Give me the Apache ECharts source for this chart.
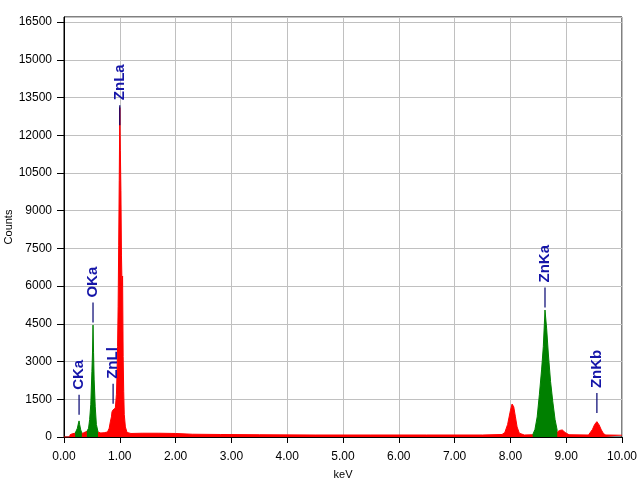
<!DOCTYPE html>
<html>
<head>
<meta charset="utf-8">
<script src="https://cdn.jsdelivr.net/npm/echarts@6/dist/echarts.min.js"></script>
<style>html,body{margin:0;padding:0;background:#fff}#c{width:640px;height:480px}</style>
</head>
<body>
<div id="c"></div>
<script>
// Spectrum (keV, counts) – red background/unlabelled regions
var redSpectrum = [
  [0.00,0],[0.10,0],[0.11,90],[0.15,130],[0.20,150],[0.24,170],[0.30,160],[0.34,150],[0.38,200],[0.42,220],
  [0.60,200],[0.66,160],[0.72,170],[0.78,200],[0.81,350],[0.83,600],[0.85,800],[0.86,1000],[0.88,1080],
  [0.90,1050],[0.92,1150],[0.94,1700],[0.95,2500],[0.96,3600],[0.97,5200],[0.98,7600],[0.99,10200],
  [1.00,13100],[1.01,11400],[1.02,9800],[1.03,7200],[1.04,6000],[1.05,6400],[1.06,3200],[1.07,1800],
  [1.08,900],[1.10,400],[1.13,180],[1.20,140],[1.40,150],[1.70,150],[2.00,140],[2.30,110],[2.80,100],
  [3.50,90],[4.50,80],[5.50,80],[6.50,80],[7.50,80],[7.85,100],[7.90,180],[7.95,500],[8.00,1050],
  [8.03,1310],[8.06,1200],[8.09,800],[8.12,400],[8.16,150],[8.25,80],[8.40,90],[8.84,200],[8.88,260],
  [8.93,280],[8.98,180],[9.05,90],[9.40,80],[9.43,120],[9.47,300],[9.51,500],[9.55,610],[9.59,480],
  [9.63,280],[9.67,130],[9.71,80],[10.00,70]
];
// Green identified peak regions
var greenCKa = [[0.20,150],[0.22,200],[0.24,350],[0.26,560],[0.27,640],[0.28,500],[0.30,280],[0.32,160]];
var greenOKa = [[0.41,220],[0.44,350],[0.46,700],[0.48,1300],[0.50,2600],[0.51,3300],[0.52,4450],
  [0.53,3350],[0.54,2300],[0.56,1200],[0.58,500],[0.61,200]];
var greenZnKa = [[8.40,90],[8.44,300],[8.48,800],[8.52,1700],[8.56,2700],[8.59,3600],[8.62,5050],
  [8.65,4300],[8.68,3300],[8.72,2200],[8.76,1400],[8.80,700],[8.84,250]];
// Peak labels: name, energy, count at bottom of marker line
var peakNames = ['CKa','OKa','ZnLl','ZnLa','ZnKa','ZnKb'];
var peakEnergy = [0.27, 0.52, 0.88, 1.00, 8.62, 9.55];
var peakMarkCount = [880, 4550, 1320, 12400, 5150, 950];

var FONT = 'Liberation Sans, Arial, sans-serif';
var chart = echarts.init(document.getElementById('c'), null, {renderer:'canvas'});

function greenSeries(d){
  return {type:'line', data:d, showSymbol:false, symbol:'none', animation:false,
    lineStyle:{color:'#008000', width:1}, areaStyle:{color:'#008000', opacity:1}, z:3};
}

chart.setOption({
  animation:false,
  backgroundColor:'#ffffff',
  grid:{left:64, right:18, top:17, bottom:43, containLabel:false, outerBoundsMode:'none',
    show:true, borderColor:'#000', borderWidth:1, backgroundColor:'transparent'},
  xAxis:{
    type:'value', min:0, max:10, interval:1,
    name:'keV', nameLocation:'middle', nameGap:32, nameMoveOverlap:false,
    nameTextStyle:{fontFamily:FONT, fontSize:11, color:'#000'},
    axisLine:{lineStyle:{color:'#000', width:1}},
    axisTick:{show:true, length:6, lineStyle:{color:'#000'}},
    axisLabel:{fontFamily:FONT, fontSize:12, color:'#000', margin:14,
      formatter:function(v){return v.toFixed(2);}},
    splitLine:{show:true, lineStyle:{color:'#c0c0c0', width:1}}
  },
  yAxis:{
    type:'value', min:0, max:16700, interval:1500,
    name:'Counts', nameLocation:'middle', nameGap:50, nameRotate:90, nameMoveOverlap:false,
    nameTextStyle:{fontFamily:FONT, fontSize:11, color:'#000'},
    axisLine:{show:true, lineStyle:{color:'#000', width:1}},
    axisTick:{show:true, length:7, lineStyle:{color:'#000'}},
    axisLabel:{fontFamily:FONT, fontSize:12, color:'#000', margin:12, showMaxLabel:false,
      formatter:function(v){return String(v);}},
    splitLine:{show:true, lineStyle:{color:'#c0c0c0', width:1}}
  },
  series:[
    {type:'line', data:redSpectrum, showSymbol:false, symbol:'none', animation:false,
      lineStyle:{color:'#ff0000', width:1}, areaStyle:{color:'#ff0000', opacity:1}, z:2},
    greenSeries(greenCKa), greenSeries(greenOKa), greenSeries(greenZnKa),
    {type:'scatter', animation:false, z:5,
      data: peakNames.map(function(n,i){return {name:n, value:[peakEnergy[i], peakMarkCount[i]]};}),
      symbol:'rect', symbolSize:[1.2,20], symbolOffset:[0,-10],
      itemStyle:{color:'#000070', opacity:1},
      label:{show:true, position:'top', distance:5, rotate:90, align:'left', verticalAlign:'middle',
        formatter:function(p){return p.name;},
        fontFamily:FONT, fontSize:15, fontWeight:'bold', color:'#1515a8', opacity:1}
    }
  ]
});
</script>
</body>
</html>
